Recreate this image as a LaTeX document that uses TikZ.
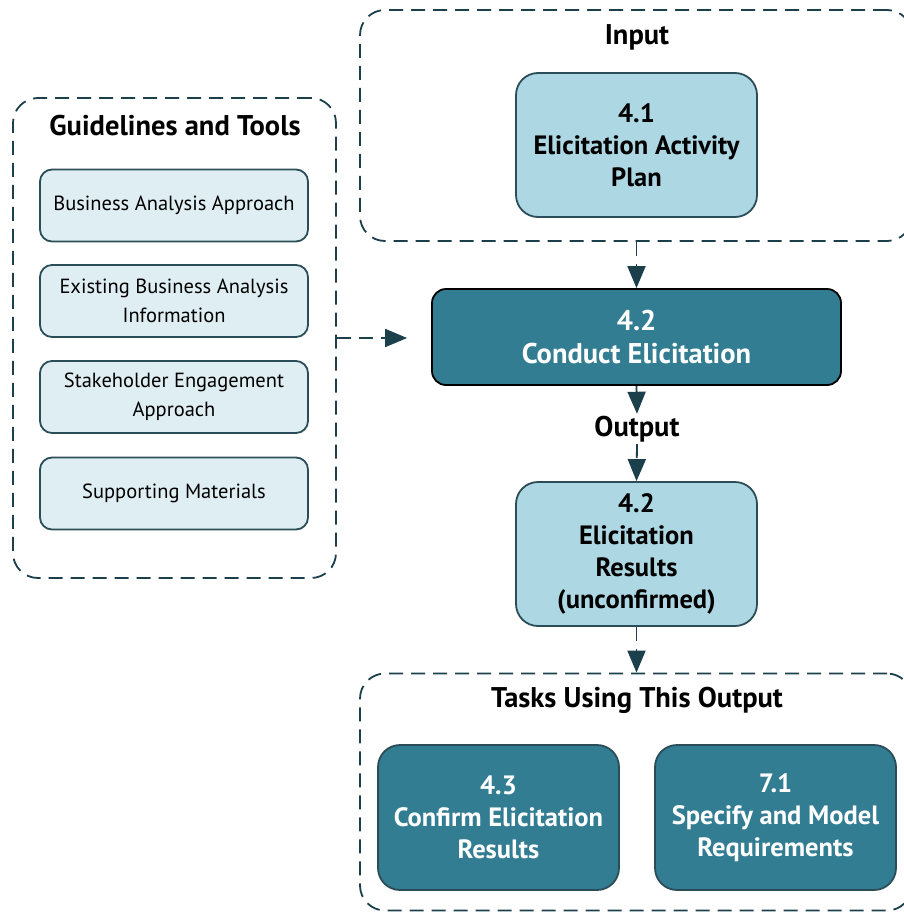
\documentclass[tikz,border=0pt]{standalone}
\usepackage{fontspec}
\setmainfont{PT Sans}
\usetikzlibrary{arrows.meta}
\definecolor{teal}{HTML}{337D93}
\definecolor{lblue}{HTML}{AED7E4}
\definecolor{vlblue}{HTML}{DFEEF3}
\definecolor{dline}{HTML}{1B3F4B}
\definecolor{bline}{HTML}{2B4D58}
\tikzset{
  dashbox/.style={draw=dline, line width=1.8pt, dash pattern=on 14pt off 8pt, rounded corners=25pt},
  title/.style={font=\bfseries\fontsize{28.5}{32}\selectfont, text=black, inner sep=2pt},
  guidebox/.style={draw=bline, fill=vlblue, line width=1.8pt, rounded corners=12pt, minimum width=268pt, minimum height=72pt, align=center, font=\fontsize{20.5}{29}\selectfont},
  lightbox/.style={draw=bline, fill=lblue, line width=1.8pt, rounded corners=22pt, minimum width=241pt, minimum height=144pt, align=center, font=\bfseries\fontsize{26.5}{32}\selectfont},
  darkbox/.style={draw=bline, fill=teal, line width=1.8pt, rounded corners=22pt, minimum width=241pt, minimum height=145pt, align=center, text=white, font=\bfseries\fontsize{26.5}{32}\selectfont},
  arr/.style={draw=dline, line width=1.8pt, dash pattern=on 14pt off 8pt, -{Triangle[length=22pt,width=18pt,fill=dline]}}
}
\begin{document}
\begin{tikzpicture}[x=1pt,y=-1pt]
\useasboundingbox (0,0) rectangle (903,913);
% dashed group boxes
\node[dashbox, minimum width=323pt, minimum height=480pt] (guide) at (174.5,338) {};
\node[dashbox, minimum width=552pt, minimum height=231pt] (input) at (636,125.5) {};
\node[dashbox, minimum width=552pt, minimum height=237pt] (tasks) at (636,792) {};
% titles
\node[title] (gtitle) at (175,126) {Guidelines and Tools};
\node[title] (ititle) at (637,37) {Input};
\node[title] (otitle) at (637,429) {Output};
\node[title] (ttitle) at (637,700) {Tasks Using This Output};
% guidelines
\node[guidebox] (g1) at (174,205.5) {Business Analysis Approach};
\node[guidebox] (g2) at (174,301) {Existing Business Analysis\\Information};
\node[guidebox] (g3) at (174,397) {Stakeholder Engagement\\Approach};
\node[guidebox] (g4) at (174,493.5) {Supporting Materials};
% main nodes
\node[lightbox] (plan) at (636.5,145) {4.1\\Elicitation Activity\\Plan};
\node[darkbox, draw=black, minimum width=409pt, minimum height=96pt, rounded corners=14pt, font=\bfseries\fontsize{28.5}{33}\selectfont] (conduct) at (636.5,337) {4.2\\Conduct Elicitation};
\node[lightbox] (results) at (636.5,554) {4.2\\Elicitation\\Results\\(unconfirmed)};
\node[darkbox] (confirm) at (498.5,817.5) {4.3\\Confirm Elicitation\\Results};
\node[darkbox] (specify) at (775.5,817.5) {7.1\\Specify and Model\\Requirements};
% connectors
\draw[arr] (input.south -| conduct.north) -- (conduct.north);
\draw[arr, shorten >=24pt] (guide.east) -- (guide.east -| conduct.west);
\draw[arr] (conduct.south) -- (otitle.north);
\draw[arr] (otitle.south) -- (results.north);
\draw[arr] (results.south) -- (results.south |- tasks.north);
\end{tikzpicture}
\end{document}
